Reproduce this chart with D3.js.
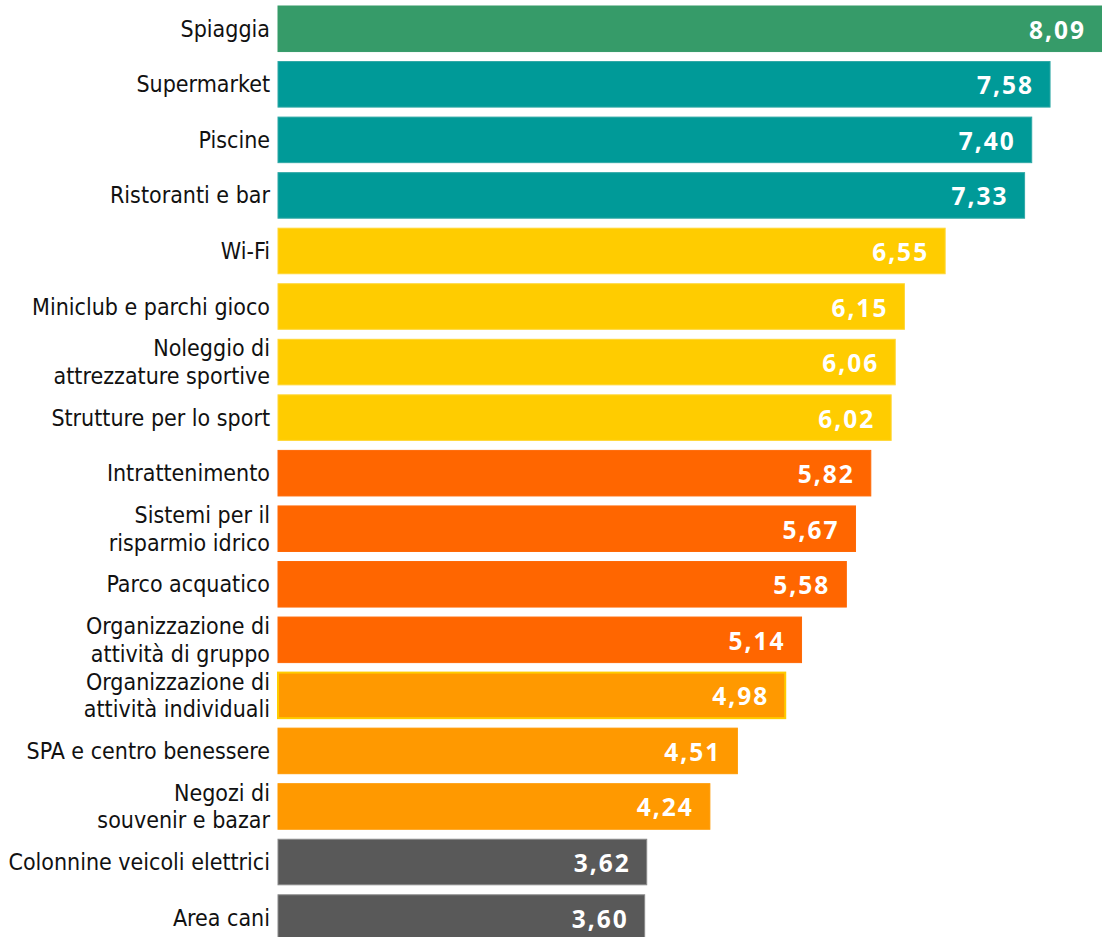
<!DOCTYPE html>
<html>
<head>
<meta charset="utf-8">
<script src="https://cdn.jsdelivr.net/npm/d3@7"></script>
<style>
  html, body { margin: 0; padding: 0; background: #fff; }
  svg { display: block; }
</style>
</head>
<body>
<svg id="chart" width="1102" height="937"></svg>
<script>
// Services rated by guests, sorted by score
const categories = [
  "Spiaggia",
  "Supermarket",
  "Piscine",
  "Ristoranti e bar",
  "Wi-Fi",
  "Miniclub e parchi gioco",
  "Noleggio di\nattrezzature sportive",
  "Strutture per lo sport",
  "Intrattenimento",
  "Sistemi per il\nrisparmio idrico",
  "Parco acquatico",
  "Organizzazione di\nattività di gruppo",
  "Organizzazione di\nattività individuali",
  "SPA e centro benessere",
  "Negozi di\nsouvenir e bazar",
  "Colonnine veicoli elettrici",
  "Area cani"
];
const values = [8.09, 7.58, 7.40, 7.33, 6.55, 6.15, 6.06, 6.02, 5.82, 5.67, 5.58, 5.14, 4.98, 4.51, 4.24, 3.62, 3.60];
const groups = [0, 1, 1, 1, 2, 2, 2, 2, 3, 3, 3, 3, 4, 4, 4, 5, 5];

const groupFill   = ["#369B69", "#009A98", "#FFCC00", "#FF6600", "#FF9900", "#595959"];
const groupStroke = ["#369B69", "#2FA8A6", "#FFD633", "#FF6A08", "#FF9900", "#8A8A8A"];

const width = 1102, height = 937;
const left = 278;

const svg = d3.select("#chart");

const x = d3.scaleLinear()
  .domain([0, 8.09])
  .range([left, width]);

const y = d3.scaleBand()
  .domain(d3.range(categories.length))
  .range([1, 1 + 17 * 55.55])
  .paddingInner(0.18)
  .paddingOuter(0.09);

const fmt = v => d3.format(".2f")(v).replace(".", ",");

const rows = svg.append("g")
  .selectAll("g")
  .data(values)
  .join("g");

rows.append("rect")
  .attr("x", x(0))
  .attr("y", (d, i) => y(i))
  .attr("width", d => x(d) - x(0))
  .attr("height", y.bandwidth())
  .attr("fill", (d, i) => groupFill[groups[i]])
  .attr("stroke", (d, i) => i === 12 ? "#FFCC00" : groupStroke[groups[i]])
  .attr("stroke-width", (d, i) => i === 12 ? 2 : 1);

// value labels inside the bar end
rows.append("text")
  .attr("x", d => x(d) - 16)
  .attr("y", (d, i) => y(i) + y.bandwidth() / 2 + 10)
  .attr("text-anchor", "end")
  .attr("fill", "#fff")
  .attr("font-family", "'Open Sans', sans-serif")
  .attr("font-weight", 700)
  .attr("font-size", "24.5px")
  .attr("letter-spacing", "2px")
  .text(d => fmt(d));

// category labels, one or two lines
const lineH = 27.7;
rows.append("text")
  .attr("text-anchor", "end")
  .attr("fill", "#111")
  .attr("font-family", "'DejaVu Sans Condensed', 'DejaVu Sans', sans-serif")
  .attr("font-stretch", "condensed")
  .attr("font-size", "23px")
  .each(function (d, i) {
    const lines = categories[i].split("\n");
    const cy = y(i) + y.bandwidth() / 2;
    const first = cy + 8 - (lines.length - 1) * lineH / 2;
    d3.select(this).selectAll("tspan")
      .data(lines)
      .join("tspan")
      .attr("x", left - 8)
      .attr("y", (l, k) => first + k * lineH)
      .text(l => l);
  });
</script>
</body>
</html>
